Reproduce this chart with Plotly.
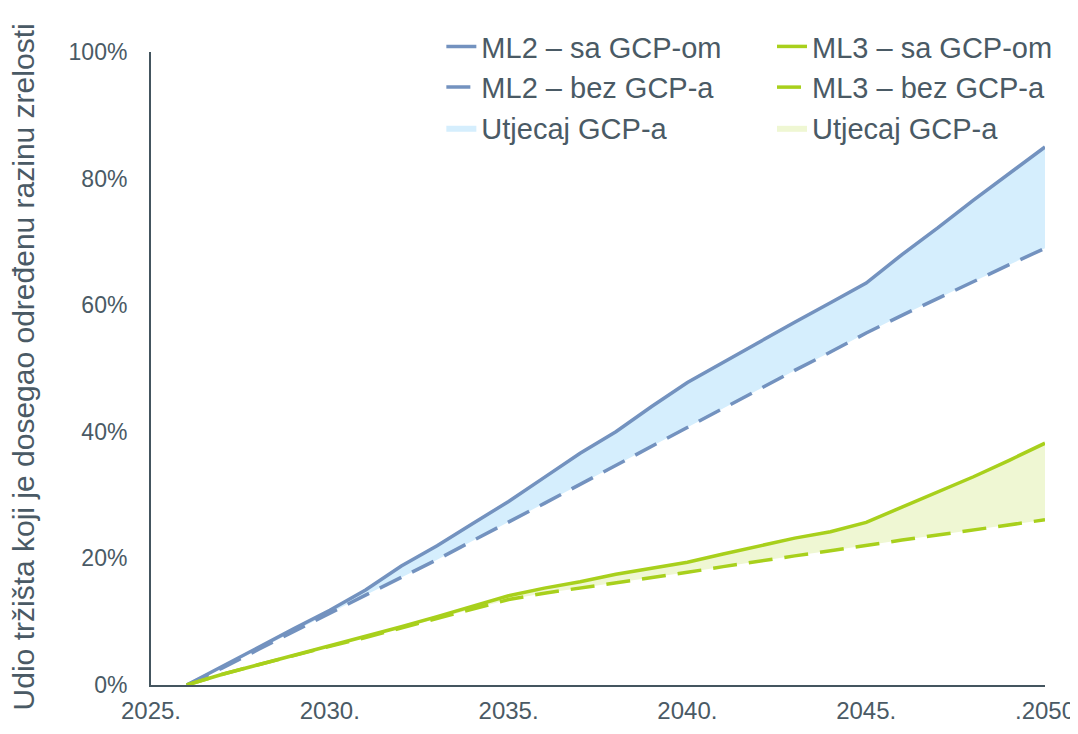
import plotly.graph_objects as go

years = list(range(2026, 2051))

ml2_sa = [0.0, 3.0, 6.0, 8.9, 11.8, 15.0, 18.8, 22.0, 25.5, 29.0, 32.8, 36.6, 40.0,
          44.0, 47.8, 51.0, 54.2, 57.3, 60.4, 63.5, 68.0, 72.2, 76.6, 80.8, 85.0]
ml2_bez = [0.0, 2.7, 5.6, 8.5, 11.4, 14.2, 17.0, 19.8, 22.8, 25.7, 28.7, 31.7, 34.7,
           37.8, 40.8, 43.8, 46.8, 49.7, 52.6, 55.6, 58.4, 61.1, 63.8, 66.4, 69.0]
ml3_sa = [0.0, 1.7, 3.2, 4.7, 6.2, 7.6, 9.2, 10.8, 12.4, 14.1, 15.3, 16.3, 17.5,
          18.5, 19.4, 20.7, 22.0, 23.2, 24.2, 25.7, 28.1, 30.5, 32.9, 35.5, 38.2]
ml3_bez = [0.0, 1.7, 3.2, 4.7, 6.1, 7.5, 9.0, 10.5, 12.0, 13.5, 14.5, 15.3, 16.2,
           17.0, 17.8, 18.7, 19.6, 20.4, 21.2, 22.1, 22.9, 23.7, 24.5, 25.3, 26.1]

x_tickvals = [2025, 2030, 2035, 2040, 2045, 2050]
x_ticktext = ["2025.", "2030.", "2035.", "2040.", "2045.", ".2050"]

y_title = "Udio tržišta koji je dosegao određenu razinu zrelosti"
name_ml2_sa = "ML2 – sa GCP-om"
name_ml2_bez = "ML2 – bez GCP-a"
name_ml3_sa = "ML3 – sa GCP-om"
name_ml3_bez = "ML3 – bez GCP-a"
name_fill = "Utjecaj GCP-a"

BLUE = "#7392bf"
GREEN = "#a8d01c"
BLUE_FILL = "#d5eefd"
GREEN_FILL = "#eff7d3"
TEXT = "#4a5a65"
AXIS = "#44555f"
FONT = "Liberation Sans, Arial, sans-serif"

def pct(v):
    return [a / 100 for a in v]

fig = go.Figure()

# fill areas (drawn first, beneath lines)
fig.add_trace(go.Scatter(x=years, y=pct(ml2_bez), mode="lines", line=dict(width=0),
                         showlegend=False, hoverinfo="skip"))
fig.add_trace(go.Scatter(x=years, y=pct(ml2_sa), mode="lines", line=dict(width=0),
                         fill="tonexty", fillcolor=BLUE_FILL, name=name_fill,
                         legend="legend", legendrank=3))
fig.add_trace(go.Scatter(x=years, y=pct(ml3_bez), mode="lines", line=dict(width=0),
                         showlegend=False, hoverinfo="skip"))
fig.add_trace(go.Scatter(x=years, y=pct(ml3_sa), mode="lines", line=dict(width=0),
                         fill="tonexty", fillcolor=GREEN_FILL, name=name_fill,
                         legend="legend2", legendrank=3))

# lines
fig.add_trace(go.Scatter(x=years, y=pct(ml2_sa), mode="lines", name=name_ml2_sa,
                         line=dict(color=BLUE, width=3.5), legend="legend", legendrank=1))
fig.add_trace(go.Scatter(x=years, y=pct(ml2_bez), mode="lines", name=name_ml2_bez,
                         line=dict(color=BLUE, width=3.5, dash="24px,12px"),
                         legend="legend", legendrank=2))
fig.add_trace(go.Scatter(x=years, y=pct(ml3_sa), mode="lines", name=name_ml3_sa,
                         line=dict(color=GREEN, width=3.5), legend="legend2", legendrank=1))
fig.add_trace(go.Scatter(x=years, y=pct(ml3_bez), mode="lines", name=name_ml3_bez,
                         line=dict(color=GREEN, width=3.5, dash="24px,12px"),
                         legend="legend2", legendrank=2))

legend_common = dict(
    font=dict(family=FONT, size=29, color=TEXT),
    bgcolor="rgba(0,0,0,0)",
    orientation="v",
    xanchor="left",
    yanchor="top",
    yref="container",
    xref="container",
    traceorder="normal",
)

# page body has an 8px margin: figure is sized to fit the 1078x734 window
fig.update_layout(
    width=1070,
    height=726,
    margin=dict(l=143, r=33, t=44, b=49, autoexpand=False),
    plot_bgcolor="white",
    paper_bgcolor="white",
    font=dict(family=FONT, size=24, color=TEXT),
    legend=dict(x=0.405, y=0.982, **legend_common),
    legend2=dict(x=0.714, y=0.982, **legend_common),
    xaxis=dict(
        range=[2025, 2050],
        tickvals=x_tickvals,
        ticktext=x_ticktext,
        showgrid=False,
        zeroline=False,
        showline=True,
        linecolor=AXIS,
        linewidth=2,
        ticks="",
        automargin=False,
        ticklabelstandoff=3,
        tickfont=dict(family=FONT, size=24, color=TEXT),
    ),
    yaxis=dict(
        range=[0, 1],
        dtick=0.2,
        tickformat=".0%",
        showgrid=False,
        zeroline=False,
        showline=True,
        linecolor=AXIS,
        linewidth=2,
        ticks="",
        automargin=False,
        ticklabelstandoff=17,
        tickfont=dict(family=FONT, size=23, color=TEXT),
    ),
    annotations=[
        dict(text=y_title, xref="paper", yref="paper", x=-0.143, y=0.502,
             xanchor="center", yanchor="middle", textangle=-90, showarrow=False,
             font=dict(family=FONT, size=30, color=TEXT))
    ],
)

fig.write_html("out.html")
